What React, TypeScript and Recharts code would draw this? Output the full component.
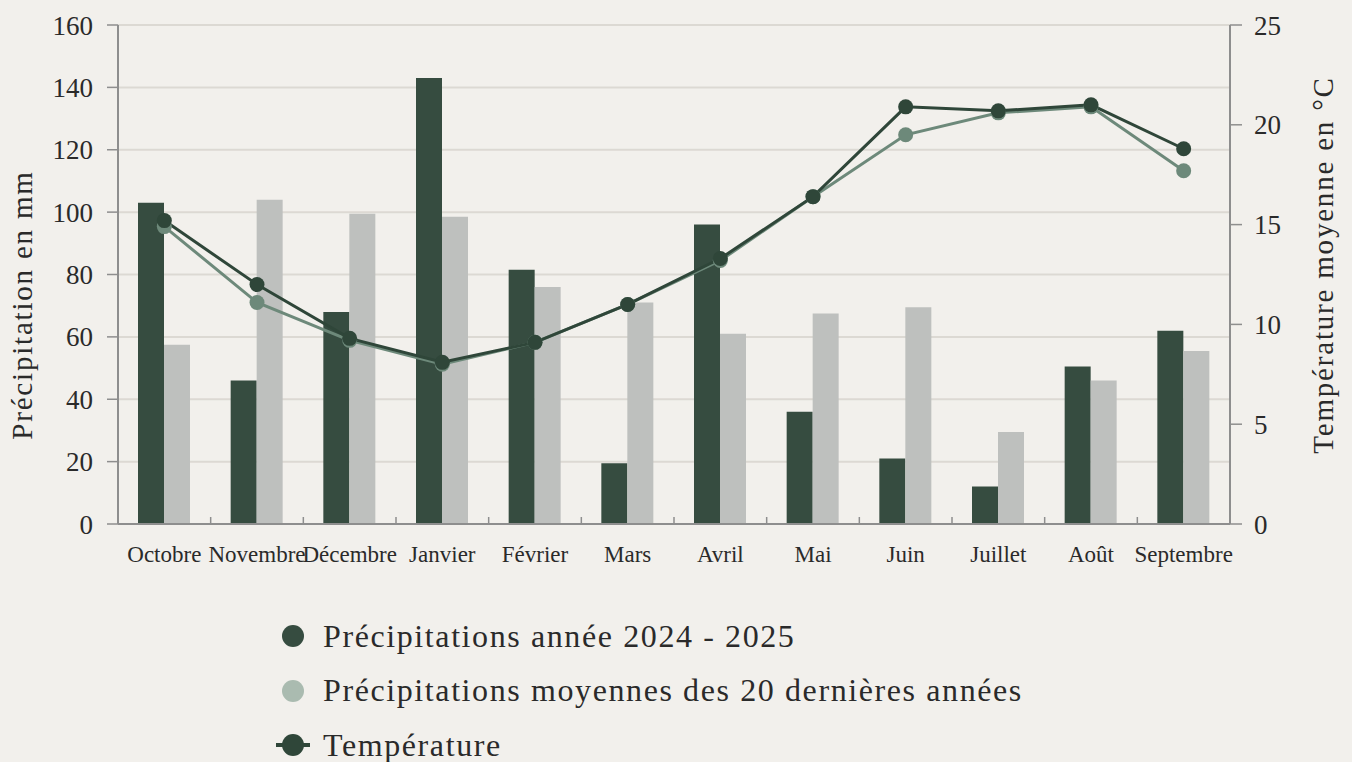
import {
  ComposedChart,
  Bar,
  Line,
  XAxis,
  YAxis,
  CartesianGrid,
} from "recharts";

// Data
const months = [
  "Octobre",
  "Novembre",
  "Décembre",
  "Janvier",
  "Février",
  "Mars",
  "Avril",
  "Mai",
  "Juin",
  "Juillet",
  "Août",
  "Septembre",
];
const rain2425 = [103, 46, 68, 143, 81.5, 19.5, 96, 36, 21, 12, 50.5, 62];
const rainAvg20 = [57.5, 104, 99.5, 98.5, 76, 71, 61, 67.5, 69.5, 29.5, 46, 55.5];
const temp2425 = [15.2, 12.0, 9.3, 8.1, 9.1, 11.0, 13.3, 16.4, 20.9, 20.7, 21.0, 18.8];
const tempAvg = [14.9, 11.1, 9.2, 8.0, 9.1, 11.0, 13.2, 16.4, 19.5, 20.6, 20.9, 17.7];
const rainTicks = [0, 20, 40, 60, 80, 100, 120, 140, 160];
const tempTicks = [0, 5, 10, 15, 20, 25];

const legendItems = [
  { label: "Précipitations année 2024 - 2025", color: "#364c40", kind: "dot" },
  { label: "Précipitations moyennes des 20 dernières années", color: "#aabbb0", kind: "dot" },
  { label: "Température", color: "#2f4639", kind: "line" },
];

const data = months.map((m, i) => ({
  month: m,
  rain: rain2425[i],
  rainAvg: rainAvg20[i],
  temp: temp2425[i],
  tempAvg: tempAvg[i],
}));

const BG = "#f2f0ec";
const AXIS = "#8e8e8e";
const TEXT = "#2a2a2a";
const FONT = "'Liberation Serif', 'Times New Roman', serif";

const W = 1352;
const H = 762;
const PLOT_LEFT = 118;
const PLOT_RIGHT = 1230;
const BAND = (PLOT_RIGHT - PLOT_LEFT) / months.length;

function MonthTick(props: any) {
  const { x, y, payload, index } = props;
  const axisY = y - 22;
  return (
    <g>
      {index > 0 && (
        <line x1={x - BAND / 2} x2={x - BAND / 2} y1={axisY - 7} y2={axisY} stroke={AXIS} strokeWidth={1.5} />
      )}
      <text x={x} y={y} dy="0.71em" textAnchor="middle" fontFamily={FONT} fontSize={23} fill={TEXT}>
        {payload.value}
      </text>
    </g>
  );
}

function AxisTitle({ cx, cy, text }: { cx: number; cy: number; text: string }) {
  return (
    <text
      transform={`translate(${cx} ${cy}) rotate(-90)`}
      textAnchor="middle"
      dominantBaseline="central"
      fontFamily={FONT}
      fontSize={29}
      letterSpacing={1.8}
      fill={TEXT}
    >
      {text}
    </text>
  );
}

function LegendBlock() {
  return (
    <div style={{ position: "absolute", left: 0, top: 0, width: W, height: H, pointerEvents: "none" }}>
      {legendItems.map((item, i) => (
        <div
          key={item.label}
          style={{
            position: "absolute",
            left: 272,
            top: 616 + i * 54.5,
            height: 40,
            display: "flex",
            alignItems: "center",
            fontFamily: FONT,
            fontSize: 32,
            letterSpacing: 1.6,
            color: TEXT,
            whiteSpace: "nowrap",
          }}
        >
          <svg width={42} height={30} style={{ marginRight: 9 }}>
            {item.kind === "line" && (
              <line x1={4} x2={38} y1={15} y2={15} stroke={item.color} strokeWidth={4} />
            )}
            <circle cx={21} cy={15} r={11} fill={item.color} />
          </svg>
          <span>{item.label}</span>
        </div>
      ))}
    </div>
  );
}

export default function App() {
  return (
    <div style={{ position: "absolute", left: 0, top: 0, width: W, height: H, background: BG, overflow: "hidden" }}>
      <ComposedChart
        width={W}
        height={H}
        data={data}
        margin={{ top: 25, right: 18, left: 18, bottom: 198 }}
        barGap={0}
        barSize={26}
      >
        <CartesianGrid vertical={false} stroke="#dcd9d3" strokeWidth={2} />
        <XAxis
          dataKey="month"
          height={40}
          interval={0}
          tickSize={0}
          tickMargin={22}
          tick={<MonthTick />}
          axisLine={{ stroke: AXIS, strokeWidth: 2 }}
        />
        <YAxis
          width={100}
          domain={[0, 160]}
          ticks={rainTicks}
          tickSize={11}
          tickMargin={14}
          tick={{ fontFamily: FONT, fontSize: 27, fill: TEXT }}
          tickLine={{ stroke: AXIS, strokeWidth: 1.5 }}
          axisLine={{ stroke: AXIS, strokeWidth: 2 }}
          label={<AxisTitle cx={22} cy={305} text="Précipitation en mm" />}
        />
        <YAxis
          yAxisId="t"
          orientation="right"
          width={104}
          domain={[0, 25]}
          ticks={tempTicks}
          tickSize={12}
          tickMargin={12}
          tick={{ fontFamily: FONT, fontSize: 27, fill: TEXT, textAnchor: "start" }}
          tickLine={{ stroke: AXIS, strokeWidth: 1.5 }}
          axisLine={{ stroke: AXIS, strokeWidth: 2 }}
          label={<AxisTitle cx={1323} cy={265} text="Température moyenne en °C" />}
        />
        <Bar dataKey="rain" fill="#364c40" isAnimationActive={false} />
        <Bar dataKey="rainAvg" fill="#bec0be" isAnimationActive={false} />
        <Line
          yAxisId="t"
          type="linear"
          dataKey="tempAvg"
          stroke="#6d897a"
          strokeWidth={3}
          dot={{ r: 7.5, fill: "#6d897a", stroke: "none" }}
          activeDot={false}
          isAnimationActive={false}
        />
        <Line
          yAxisId="t"
          type="linear"
          dataKey="temp"
          stroke="#2f4639"
          strokeWidth={3}
          dot={{ r: 7.5, fill: "#2f4639", stroke: "none" }}
          activeDot={false}
          isAnimationActive={false}
        />
      </ComposedChart>
      <LegendBlock />
    </div>
  );
}
